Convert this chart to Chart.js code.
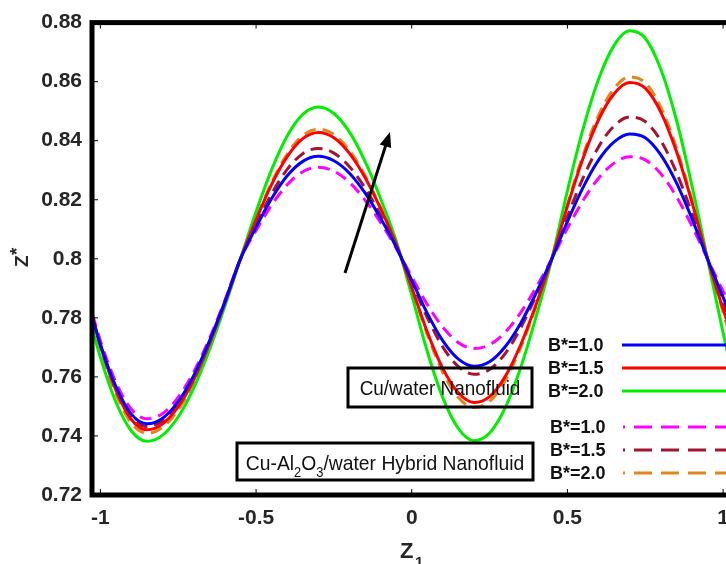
<!DOCTYPE html>
<html>
<head>
<meta charset="utf-8">
<script src="https://cdn.jsdelivr.net/npm/chart.js@4.4.1/dist/chart.umd.min.js"></script>
<style>
  html, body { margin: 0; padding: 0; background: #fff; overflow: hidden; }
  #box { width: 726px; height: 564px; overflow: hidden; }
</style>
</head>
<body>
<div id="box"><canvas id="myChart" width="740" height="564"></canvas></div>
<script>
// axial coordinate Z1
const zValues = [-1.025, -1.0, -0.95, -0.9, -0.85, -0.8, -0.75, -0.7, -0.65, -0.6, -0.55,
  -0.5, -0.45, -0.4, -0.35, -0.3, -0.25, -0.2, -0.15, -0.1, -0.05, 0, 0.05, 0.1, 0.15, 0.2,
  0.25, 0.3, 0.35, 0.4, 0.45, 0.5, 0.55, 0.6, 0.65, 0.7, 0.75, 0.8, 0.85, 0.9, 0.95, 1.0, 1.025];

// Cu/water nanofluid
const cuB10 = [0.780, 0.7710, 0.7567, 0.7473, 0.7441, 0.7460, 0.7516, 0.7605, 0.7721, 0.7855, 0.8000,
  0.8107, 0.8204, 0.8281, 0.8330, 0.8347, 0.8332, 0.8290, 0.8223, 0.8137, 0.8040, 0.7927, 0.7815,
  0.7722, 0.7660, 0.7636, 0.7651, 0.7702, 0.7782, 0.7885, 0.8000, 0.8126, 0.8241, 0.8334, 0.8396,
  0.8423, 0.8410, 0.8352, 0.8258, 0.8136, 0.8000, 0.787, 0.781];
const cuB15 = [0.780, 0.7705, 0.7554, 0.7455, 0.7421, 0.7441, 0.7499, 0.7591, 0.7711, 0.7850, 0.8000,
  0.8132, 0.8252, 0.8346, 0.8407, 0.8428, 0.8410, 0.8357, 0.8275, 0.8170, 0.8050, 0.7903, 0.7752,
  0.7628, 0.7546, 0.7513, 0.7533, 0.7601, 0.7709, 0.7847, 0.8000, 0.8178, 0.8340, 0.8471, 0.8559,
  0.8597, 0.8578, 0.8497, 0.8364, 0.8192, 0.8000, 0.783, 0.775];
const cuB20 = [0.776, 0.7666, 0.7514, 0.7416, 0.7382, 0.7403, 0.7465, 0.7563, 0.7691, 0.7840, 0.8000,
  0.8159, 0.8302, 0.8416, 0.8489, 0.8514, 0.8492, 0.8429, 0.8330, 0.8204, 0.8060, 0.7877, 0.7686,
  0.7529, 0.7425, 0.7384, 0.7410, 0.7495, 0.7632, 0.7806, 0.8000, 0.8230, 0.8439, 0.8608, 0.8723,
  0.8772, 0.8747, 0.8642, 0.8471, 0.8248, 0.8000, 0.775, 0.763];

// Cu-Al2O3/water hybrid nanofluid
const hyB10 = [0.781, 0.7722, 0.7581, 0.7490, 0.7458, 0.7476, 0.7531, 0.7617, 0.7729, 0.7860, 0.8000,
  0.8096, 0.8182, 0.8251, 0.8295, 0.8310, 0.8297, 0.8259, 0.8199, 0.8123, 0.8036, 0.7939, 0.7845,
  0.7768, 0.7716, 0.7696, 0.7709, 0.7751, 0.7818, 0.7904, 0.8000, 0.8103, 0.8197, 0.8273, 0.8324,
  0.8346, 0.8335, 0.8288, 0.8211, 0.8111, 0.8000, 0.789, 0.784];
const hyB15 = [0.780, 0.7708, 0.7561, 0.7465, 0.7432, 0.7451, 0.7508, 0.7598, 0.7716, 0.7853, 0.8000,
  0.8116, 0.8220, 0.8303, 0.8356, 0.8374, 0.8358, 0.8312, 0.8240, 0.8148, 0.8043, 0.7922, 0.7801,
  0.7701, 0.7635, 0.7609, 0.7625, 0.7679, 0.7766, 0.7877, 0.8000, 0.8143, 0.8273, 0.8379, 0.8450,
  0.8480, 0.8465, 0.8400, 0.8293, 0.8154, 0.8000, 0.785, 0.779];
const hyB20 = [0.779, 0.7695, 0.7542, 0.7443, 0.7409, 0.7429, 0.7488, 0.7582, 0.7705, 0.7847, 0.8000,
  0.8136, 0.8258, 0.8355, 0.8418, 0.8439, 0.8421, 0.8367, 0.8282, 0.8174, 0.8051, 0.7899, 0.7744,
  0.7615, 0.7530, 0.7496, 0.7517, 0.7587, 0.7699, 0.7841, 0.8000, 0.8183, 0.8351, 0.8486, 0.8577,
  0.8616, 0.8596, 0.8513, 0.8376, 0.8198, 0.8000, 0.782, 0.773];

const xTicks = [-1, -0.5, 0, 0.5, 1];
const xTickLabels = ["-1", "-0.5", "0", "0.5", "1"];
const yTicks = [0.72, 0.74, 0.76, 0.78, 0.8, 0.82, 0.84, 0.86, 0.88];
const yTickLabels = ["0.72", "0.74", "0.76", "0.78", "0.8", "0.82", "0.84", "0.86", "0.88"];
const legendLabels = ["B*=1.0", "B*=1.5", "B*=2.0"];

const FONT = '"Liberation Sans", Arial, sans-serif';
const solidColors = ["#0000ff", "#ff0000", "#00ee00"];
const dashColors = ["#ff00ff", "#a2142f", "#e0861a"];

function toPoints(values) {
  return values.map((v, i) => ({ x: zValues[i], y: v }));
}

function makeSet(label, values, color, dashed) {
  return {
    label: label,
    data: toPoints(values),
    borderColor: color,
    borderWidth: 3,
    borderDash: dashed ? [12, 7] : [],
    pointRadius: 0,
    fill: false,
    cubicInterpolationMode: "monotone",
  };
}

function line(ctx, x1, y1, x2, y2) {
  ctx.beginPath();
  ctx.moveTo(x1, y1);
  ctx.lineTo(x2, y2);
  ctx.stroke();
}

const extras = {
  id: "extras",
  afterDatasetsDraw(chart) {
    const ctx = chart.ctx;
    const a = chart.chartArea;
    const xs = chart.scales.x;
    const ys = chart.scales.y;
    ctx.save();

    // inward tick marks
    ctx.strokeStyle = "#000";
    ctx.lineWidth = 1;
    xTicks.forEach((v) => {
      const px = xs.getPixelForValue(v);
      line(ctx, px, a.bottom, px, a.bottom - 6);
      line(ctx, px, a.top, px, a.top + 6);
    });
    yTicks.forEach((v) => {
      const py = ys.getPixelForValue(v);
      line(ctx, a.left, py, a.left + 6, py);
    });

    // thick frame
    ctx.lineWidth = 5;
    ctx.strokeRect(a.left, a.top, a.right - a.left, a.bottom - a.top);

    // arrow
    ctx.lineWidth = 3;
    ctx.strokeStyle = "#000";
    ctx.fillStyle = "#000";
    const tx = 390, ty = 132, sx = 345, sy = 273;
    const ang = Math.atan2(ty - sy, tx - sx);
    line(ctx, sx, sy, tx - 8 * Math.cos(ang), ty - 8 * Math.sin(ang));
    ctx.beginPath();
    ctx.moveTo(tx, ty);
    ctx.lineTo(tx - 15 * Math.cos(ang) + 6 * Math.sin(ang), ty - 15 * Math.sin(ang) - 6 * Math.cos(ang));
    ctx.lineTo(tx - 15 * Math.cos(ang) - 6 * Math.sin(ang), ty - 15 * Math.sin(ang) + 6 * Math.cos(ang));
    ctx.closePath();
    ctx.fill();

    // text boxes
    ctx.lineWidth = 3;
    ctx.strokeRect(348, 368, 184, 39);
    ctx.strokeRect(237, 443, 296, 37);

    ctx.fillStyle = "#111";
    ctx.textBaseline = "alphabetic";
    ctx.save();
    ctx.translate(440, 395);
    ctx.scale(0.9, 1);
    ctx.font = "21px " + FONT;
    ctx.textAlign = "center";
    ctx.fillText("Cu/water Nanofluid", 0, 0);
    ctx.restore();

    // hybrid label with subscripts
    const parts = [
      ["Cu-Al", 21, 0], ["2", 14, 7], ["O", 21, 0], ["3", 14, 7], ["/water Hybrid Nanofluid", 21, 0],
    ];
    ctx.save();
    ctx.textAlign = "left";
    let total = 0;
    parts.forEach((p) => {
      ctx.font = p[1] + "px " + FONT;
      total += ctx.measureText(p[0]).width;
    });
    const sc = 0.92;
    ctx.translate(385 - (total * sc) / 2, 470);
    ctx.scale(sc, 1);
    let cx = 0;
    parts.forEach((p) => {
      ctx.font = p[1] + "px " + FONT;
      ctx.fillText(p[0], cx, p[2]);
      cx += ctx.measureText(p[0]).width;
    });
    ctx.restore();

    // legend
    ctx.font = "bold 18px " + FONT;
    ctx.textAlign = "left";
    ctx.textBaseline = "middle";
    ctx.fillStyle = "#111";
    const solidRows = [345, 368, 391];
    const dashRows = [427, 450, 473];
    ctx.lineWidth = 3;
    legendLabels.forEach((lab, i) => {
      ctx.fillText(lab, 548, solidRows[i] + 1);
      ctx.strokeStyle = solidColors[i];
      ctx.setLineDash([]);
      line(ctx, 622, solidRows[i], 740, solidRows[i]);
    });
    legendLabels.forEach((lab, i) => {
      ctx.fillText(lab, 550, dashRows[i] + 1);
      ctx.strokeStyle = dashColors[i];
      ctx.setLineDash([2, 9, 18, 9, 18, 9, 18, 9, 18, 9]);
      line(ctx, 623, dashRows[i], 740, dashRows[i]);
    });
    ctx.setLineDash([]);

    // axis titles
    ctx.fillStyle = "#262626";
    ctx.textBaseline = "alphabetic";
    ctx.textAlign = "left";
    ctx.font = "bold 22px " + FONT;
    ctx.fillText("Z", 400, 558);
    ctx.font = "bold 15px " + FONT;
    ctx.fillText("1", 415, 567);

    ctx.save();
    ctx.translate(28, 267);
    ctx.rotate(-Math.PI / 2);
    ctx.textAlign = "left";
    ctx.font = "bold 19px " + FONT;
    ctx.fillText("Z", 0, 0);
    ctx.fillText("*", 12, -5);
    ctx.restore();

    ctx.restore();
  },
};

new Chart("myChart", {
  type: "line",
  data: {
    datasets: [
      makeSet("Cu B*=1.0", cuB10, solidColors[0], false),
      makeSet("Cu B*=1.5", cuB15, solidColors[1], false),
      makeSet("Cu B*=2.0", cuB20, solidColors[2], false),
      makeSet("Hybrid B*=1.0", hyB10, dashColors[0], true),
      makeSet("Hybrid B*=1.5", hyB15, dashColors[1], true),
      makeSet("Hybrid B*=2.0", hyB20, dashColors[2], true),
    ],
  },
  options: {
    responsive: false,
    animation: false,
    layout: { padding: { top: 18, right: 7, left: 0, bottom: 0 } },
    plugins: { legend: { display: false }, tooltip: { enabled: false } },
    scales: {
      x: {
        type: "linear",
        min: -1.027,
        max: 1.027,
        grid: { display: false, drawTicks: false },
        border: { display: false },
        afterBuildTicks: (scale) => {
          scale.ticks = xTicks.map((v) => ({ value: v }));
        },
        afterFit: (scale) => {
          scale.height = 69;
        },
        ticks: {
          autoSkip: false,
          maxRotation: 0,
          padding: 11,
          color: "#262626",
          font: { family: FONT, size: 21, weight: "bold" },
          callback: (v, i) => xTickLabels[i],
        },
      },
      y: {
        min: 0.72,
        max: 0.88,
        grid: { display: false, drawTicks: false },
        border: { display: false },
        afterBuildTicks: (scale) => {
          scale.ticks = yTicks.map((v) => ({ value: v }));
        },
        afterFit: (scale) => {
          scale.width = 92;
        },
        ticks: {
          autoSkip: false,
          padding: 10,
          color: "#262626",
          font: { family: FONT, size: 21, weight: "bold" },
          callback: (v, i) => yTickLabels[i],
        },
      },
    },
  },
  plugins: [extras],
});
</script>
</body>
</html>
